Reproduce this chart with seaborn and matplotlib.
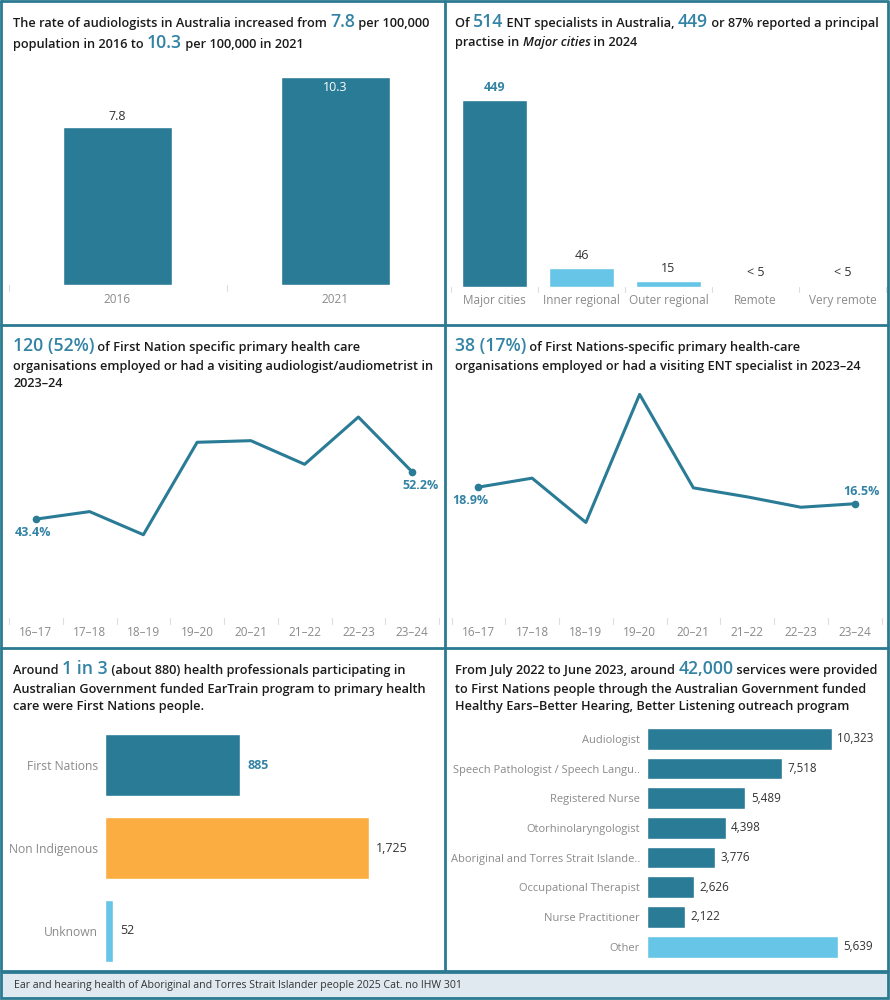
import numpy as np
import pandas as pd
import matplotlib
matplotlib.use("Agg")
import matplotlib.pyplot as plt
import matplotlib.transforms as mtransforms
import seaborn as sns

# Data
rate_years = ['2016', '2021']
rate_values = [7.8, 10.3]

ent_regions = ['Major cities', 'Inner regional', 'Outer regional', 'Remote', 'Very remote']
ent_counts = [449, 46, 15, np.nan, np.nan]
ent_labels = ['449', '46', '15', '< 5', '< 5']

periods = ['16–17', '17–18', '18–19', '19–20', '20–21', '21–22', '22–23', '23–24']
audio_pct = [43.4, 44.8, 40.5, 57.7, 58.0, 53.6, 62.4, 52.2]
ent_pct = [18.9, 20.2, 13.8, 32.3, 18.8, 17.5, 16.0, 16.5]

eartrain_groups = ['First Nations', 'Non Indigenous', 'Unknown']
eartrain_counts = [885, 1725, 52]

hebh_roles = ['Audiologist', 'Speech Pathologist / Speech Langu..', 'Registered Nurse',
              'Otorhinolaryngologist', 'Aboriginal and Torres Strait Islande..',
              'Occupational Therapist', 'Nurse Practitioner']
hebh_services = [10323, 7518, 5489, 4398, 3776, 2626, 2122]
other_role = ['Other']
other_services = [5639]

# Style
TEAL = '#2a7b96'
LIGHT = '#67c5e7'
ORANGE = '#fbad42'
BORDER = '#2b7a92'
HILITE = '#3383a5'
TEXT = '#1b1b1b'
GREY = '#8a8a8a'
FONT = 'Open Sans'

sns.set_theme(style="white")
plt.rcParams['font.family'] = [FONT, 'DejaVu Sans']

W, H = 890, 1000
fig = plt.figure(figsize=(W / 100, H / 100), dpi=100)
fig.patch.set_facecolor('white')
renderer = fig.canvas.get_renderer()
px = mtransforms.IdentityTransform()


def axes_px(x0, y0, x1, y1):
    # pixel box (top-left origin) -> axes
    ax = fig.add_axes([x0 / W, 1 - y1 / H, (x1 - x0) / W, (y1 - y0) / H])
    ax.set_facecolor('none')
    return ax


def rich_line(x, y, runs, base=9.2):
    # runs of (text, style) placed one after another on a baseline
    for text, style in runs:
        kw = dict(fontsize=base, color=TEXT, fontweight='semibold')
        if style == 'num':
            kw.update(fontsize=base * 1.38, color=HILITE, fontweight='semibold')
        elif style == 'it':
            kw.update(fontstyle='italic')
        t = fig.text(x, H - y, text, transform=px, va='baseline', ha='left', **kw)
        x += t.get_window_extent(renderer).width


def clean(ax):
    for s in ax.spines.values():
        s.set_visible(False)
    ax.set_xlabel('')
    ax.set_ylabel('')
    ax.grid(False)


def boundary_ticks(ax, n):
    for b in np.arange(-0.5, n, 1.0):
        ax.plot([b, b], [0, -0.025], transform=ax.get_xaxis_transform(),
                color='#dddddd', lw=0.8, clip_on=False)


# ---- Panel 1: audiologist rate ----
rich_line(13, 27, [('The rate of audiologists in Australia increased from ', 't'),
                   ('7.8', 'num'), (' per 100,000', 't')])
rich_line(13, 48, [('population in 2016 to ', 't'), ('10.3', 'num'), (' per 100,000 in 2021', 't')])

ax1 = axes_px(8.5, 60, 444.5, 285)
sns.barplot(x=rate_years, y=rate_values, color=TEAL, width=0.5, saturation=1, ax=ax1)
ax1.set_ylim(0, 225 / 20.2)
ax1.set_xlim(-0.5, 1.5)
ax1.set_yticks([])
ax1.tick_params(axis='x', length=0, pad=6, labelsize=8.5, labelcolor=GREY)
for i, v in enumerate(rate_values):
    if i == 0:
        ax1.annotate(f'{v}', (i, v), xytext=(0, 3), textcoords='offset points',
                     ha='center', va='bottom', fontsize=9, color='#333333')
    else:
        ax1.annotate(f'{v}', (i, v), xytext=(0, -3), textcoords='offset points',
                     ha='center', va='top', fontsize=9, color='white')
boundary_ticks(ax1, 2)
clean(ax1)

# ---- Panel 2: ENT specialists by remoteness ----
rich_line(455, 27, [('Of ', 't'), ('514', 'num'), (' ENT specialists in Australia, ', 't'),
                    ('449', 'num'), (' or 87% reported a principal', 't')])
rich_line(455, 46, [('practise in ', 't'), ('Major cities', 'it'), (' in 2024', 't')])

ax2 = axes_px(451, 75, 886, 287)
ent_df = pd.DataFrame({'region': ent_regions, 'count': ent_counts})
sns.barplot(data=ent_df, x='region', y='count', hue='region', palette=[TEAL, LIGHT, LIGHT, LIGHT, LIGHT],
            width=0.75, saturation=1, legend=False, ax=ax2)
ax2.set_ylim(0, 212 / 0.4165)
ax2.set_xlim(-0.5, 4.5)
ax2.set_yticks([])
ax2.tick_params(axis='x', length=0, pad=5, labelsize=8.5, labelcolor=GREY)
for i, (v, lab) in enumerate(zip(ent_counts, ent_labels)):
    y = 0 if np.isnan(v) else v
    bold = i == 0
    ax2.annotate(lab, (i, y), xytext=(0, 4 if not np.isnan(v) else 6), textcoords='offset points',
                 ha='center', va='bottom', fontsize=9,
                 color=HILITE if bold else '#333333', fontweight='bold' if bold else 'normal')
boundary_ticks(ax2, 5)
clean(ax2)

# ---- Panel 3: audiologist/audiometrist line ----
rich_line(13, 351, [('120 (52%)', 'num'), (' of First Nation specific primary health care', 't')])
rich_line(13, 370, [('organisations employed or had a visiting audiologist/audiometrist in', 't')])
rich_line(13, 387, [('2023–24', 't')])

ax3 = axes_px(9, 395, 439, 618)
sns.lineplot(x=periods, y=audio_pct, sort=False, color=TEAL, lw=2.2, ax=ax3)
ax3.plot([0, 7], [audio_pct[0], audio_pct[-1]], 'o', color=TEAL, ms=4.5, ls='none')
ax3.set_ylim(25.0, 66.5)
ax3.set_xlim(-0.5, 7.5)
ax3.set_yticks([])
ax3.tick_params(axis='x', length=0, pad=6, labelsize=8.5, labelcolor=GREY)
ax3.annotate(f'{audio_pct[0]}%', (0, audio_pct[0]), xytext=(-2, -5), textcoords='offset points',
             ha='center', va='top', fontsize=9, color=HILITE, fontweight='bold')
ax3.annotate(f'{audio_pct[-1]}%', (7, audio_pct[-1]), xytext=(6, -5), textcoords='offset points',
             ha='center', va='top', fontsize=9, color=HILITE, fontweight='bold')
boundary_ticks(ax3, 8)
clean(ax3)

# ---- Panel 4: ENT line ----
rich_line(455, 351, [('38 (17%)', 'num'), (' of First Nations-specific primary health-care', 't')])
rich_line(455, 370, [('organisations employed or had a visiting ENT specialist in 2023–24', 't')])

ax4 = axes_px(451.5, 393, 881.5, 618)
sns.lineplot(x=periods, y=ent_pct, sort=False, color=TEAL, lw=2.2, ax=ax4)
ax4.plot([0, 7], [ent_pct[0], ent_pct[-1]], 'o', color=TEAL, ms=4.5, ls='none')
ax4.set_ylim(0, 32.5)
ax4.set_xlim(-0.5, 7.5)
ax4.set_yticks([])
ax4.tick_params(axis='x', length=0, pad=6, labelsize=8.5, labelcolor=GREY)
ax4.annotate(f'{ent_pct[0]}%', (0, ent_pct[0]), xytext=(-6, -5), textcoords='offset points',
             ha='center', va='top', fontsize=9, color=HILITE, fontweight='bold')
ax4.annotate(f'{ent_pct[-1]}%', (7, ent_pct[-1]), xytext=(5, 4), textcoords='offset points',
             ha='center', va='bottom', fontsize=9, color=HILITE, fontweight='bold')
boundary_ticks(ax4, 8)
clean(ax4)

# ---- Panel 5: EarTrain participants ----
rich_line(13, 674, [('Around ', 't'), ('1 in 3', 'num'), (' (about 880) health professionals participating in', 't')])
rich_line(13, 693, [('Australian Government funded EarTrain program to primary health', 't')])
rich_line(13, 710, [('care were First Nations people.', 't')])

ax5 = axes_px(105, 724, 435, 972)
et_df = pd.DataFrame({'group': eartrain_groups, 'n': eartrain_counts})
sns.barplot(data=et_df, y='group', x='n', hue='group', palette=[TEAL, ORANGE, LIGHT],
            width=0.75, saturation=1, legend=False, orient='h', ax=ax5)
ax5.set_xlim(0, 330 / 0.153)
ax5.set_ylim(2.5, -0.5)
ax5.set_xticks([])
ax5.tick_params(axis='y', length=0, pad=5, labelsize=8.7, labelcolor=GREY)
for i, v in enumerate(eartrain_counts):
    ax5.annotate(f'{v:,}', (v, i), xytext=(5, 0), textcoords='offset points',
                 ha='left', va='center', fontsize=9,
                 color=HILITE if i == 0 else '#333333', fontweight='bold' if i == 0 else 'normal')
clean(ax5)

# ---- Panel 6: Healthy Ears services ----
rich_line(455, 674, [('From July 2022 to June 2023, around ', 't'), ('42,000', 'num'),
                     (' services were provided', 't')])
rich_line(455, 693, [('to First Nations people through the Australian Government funded', 't')])
rich_line(455, 710, [('Healthy Ears–Better Hearing, Better Listening outreach program', 't')])

ax6 = axes_px(647, 724, 885, 931.7)
sns.barplot(x=hebh_services, y=hebh_roles, color=TEAL, width=0.74, saturation=1, orient='h', ax=ax6)
ax6.set_xlim(0, 10323 * 238 / 184.7)
ax6.set_ylim(len(hebh_roles) - 0.5, -0.5)
ax6.set_xticks([])
ax6.tick_params(axis='y', length=0, pad=5, labelsize=8.0, labelcolor=GREY)
for i, v in enumerate(hebh_services):
    ax6.annotate(f'{v:,}', (v, i), xytext=(4, 0), textcoords='offset points',
                 ha='left', va='center', fontsize=8.4, color='#333333')
clean(ax6)

# "Other" sits on its own axis, as in the source dashboard
ax7 = axes_px(647, 932, 885, 961.6)
sns.barplot(x=other_services, y=other_role, color=LIGHT, width=0.74, saturation=1, orient='h', ax=ax7)
ax7.set_xlim(0, 5639 * 238 / 190.7)
ax7.set_ylim(0.5, -0.5)
ax7.set_xticks([])
ax7.tick_params(axis='y', length=0, pad=5, labelsize=8.0, labelcolor=GREY)
for i, v in enumerate(other_services):
    ax7.annotate(f'{v:,}', (v, i), xytext=(4, 0), textcoords='offset points',
                 ha='left', va='center', fontsize=8.4, color='#333333')
clean(ax7)

# ---- Borders and footer ----
lines = fig.add_axes([0, 0, 1, 1], zorder=10)
lines.set_xlim(0, W)
lines.set_ylim(H, 0)
lines.axis('off')
lines.add_patch(plt.Rectangle((1, 972), W - 3, 26, facecolor='#dfe9ef', edgecolor=BORDER, lw=2))
lines.plot([1, W - 2, W - 2, 1, 1], [1, 1, 971, 971, 1], color=BORDER, lw=2)
lines.plot([445, 445], [1, 971], color=BORDER, lw=2)
lines.plot([1, W - 2], [325, 325], color=BORDER, lw=2)
lines.plot([1, W - 2], [648, 648], color=BORDER, lw=2)
lines.text(14, 985.5, 'Ear and hearing health of Aboriginal and Torres Strait Islander people 2025 Cat. no IHW 301',
           fontsize=7.6, color='#333333', va='center', ha='left')

fig.savefig('out.png', dpi=100, facecolor='white')
